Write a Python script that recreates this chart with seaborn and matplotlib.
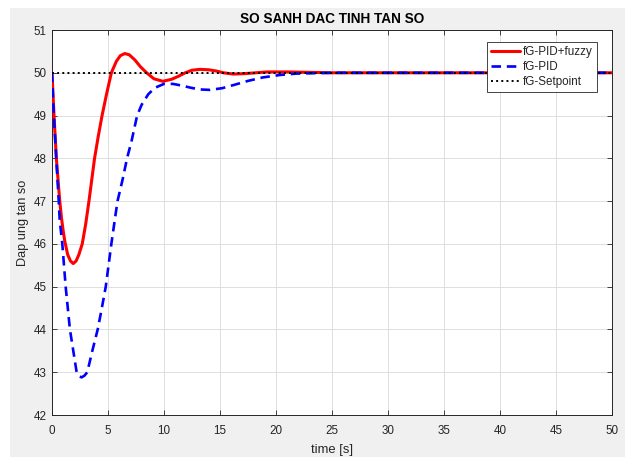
import numpy as np
import pandas as pd
import matplotlib
matplotlib.use("Agg")
import matplotlib.pyplot as plt
import seaborn as sns
from matplotlib.patches import Rectangle

# values
t_fuzzy = [0, 0.09, 0.18, 0.39, 0.69, 0.85, 1.0, 1.15, 1.4, 1.65, 1.9, 2.15, 2.4, 2.7,
           3.0, 3.3, 3.55, 3.8, 4.12, 4.47, 4.87, 5.3, 5.75, 6.1, 6.5, 6.9, 7.4, 7.9,
           8.45, 9.1, 9.9, 10.7, 11.3, 11.9, 12.5, 13.2, 14.0, 14.7, 15.3, 16.2, 17.2,
           18.2, 19.2, 21, 23, 25, 30, 35, 40, 45, 50]
f_fuzzy = [50, 49.5, 49.0, 48.0, 47.0, 46.6, 46.3, 46.05, 45.75, 45.6, 45.54, 45.6, 45.75, 46.0,
           46.45, 47.0, 47.5, 48.0, 48.5, 49.0, 49.5, 50.0, 50.27, 50.4, 50.45, 50.42, 50.3, 50.14,
           50.0, 49.86, 49.8, 49.85, 49.92, 50.0, 50.06, 50.08, 50.07, 50.04, 50.0, 49.97, 49.98,
           50.0, 50.02, 50.02, 50.01, 50.0, 50.0, 50.0, 50.0, 50.0, 50.0]

t_pid = [0, 0.08, 0.17, 0.38, 0.6, 0.69, 0.92, 1.22, 1.6, 1.9, 2.2, 2.45, 2.65, 2.9, 3.15,
         3.6, 4.08, 4.45, 4.8, 5.05, 5.3, 5.6, 5.85, 6.3, 6.7, 7.1, 7.6, 8.0, 8.6, 9.2,
         10.0, 10.8, 11.6, 12.4, 13.2, 14.1, 15.2, 16.3, 17.5, 18.8, 20.4, 21.8, 23.5,
         25, 30, 35, 40, 45, 50]
f_pid = [50, 49.5, 49.0, 48.0, 47.0, 46.55, 46.0, 45.0, 44.0, 43.5, 43.0, 42.9, 42.88, 42.92, 43.0,
         43.5, 44.0, 44.5, 45.0, 45.5, 46.0, 46.55, 47.0, 47.5, 48.0, 48.4, 49.0, 49.25, 49.5, 49.65,
         49.74, 49.74, 49.7, 49.65, 49.61, 49.6, 49.64, 49.72, 49.81, 49.89, 49.95, 49.98, 49.99,
         50.0, 50.0, 50.0, 50.0, 50.0, 50.0]

t_set = [0, 50]
f_set = [50, 50]

fuzzy = pd.DataFrame({"t": t_fuzzy, "f": f_fuzzy})
pid = pd.DataFrame({"t": t_pid, "f": f_pid})
setp = pd.DataFrame({"t": t_set, "f": f_set})

sns.set_style("ticks")
plt.rcParams["font.family"] = ["Liberation Sans", "DejaVu Sans"]

fig = plt.figure(figsize=(6.35, 4.57), dpi=100, facecolor="white")
fig.patches.append(Rectangle((10 / 635, 0), 615 / 635, 449 / 457, transform=fig.transFigure,
                             facecolor="#f0f0f0", edgecolor="none", zorder=-10))
ax = fig.add_axes([52 / 635, 42 / 457, 560 / 635, 385 / 457])
ax.set_facecolor("white")

sns.lineplot(data=fuzzy, x="t", y="f", color="red", lw=2.2, label="fG-PID+fuzzy", ax=ax, zorder=3)
sns.lineplot(data=pid, x="t", y="f", color="blue", lw=1.9, label="fG-PID", ax=ax, zorder=4)
ax.lines[-1].set_dashes((3.6, 2.2))
sns.lineplot(data=setp, x="t", y="f", color="black", lw=1.4, ls=":", label="fG-Setpoint", ax=ax, zorder=5)

ax.set_xlim(0, 50)
ax.set_ylim(42, 51)
ax.set_xticks(np.arange(0, 51, 5))
ax.set_yticks(np.arange(42, 52, 1))
ax.grid(True, color="#dedede", lw=0.7)
ax.set_axisbelow(True)
ax.tick_params(direction="in", length=3.5, width=0.6, top=True, right=True,
               labelsize=8.4, colors="#262626")
ax.tick_params(axis="x", pad=7.5)
ax.tick_params(axis="y", pad=4)
for s in ax.spines.values():
    s.set_color("#262626")
    s.set_linewidth(0.7)

ax.set_title("SO SANH DAC TINH TAN SO", fontsize=9.8, fontweight="bold", color="black", pad=5)
ax.set_xlabel("time [s]", fontsize=9.4, color="#262626", labelpad=4.5)
ax.set_ylabel("Dap ung tan so", fontsize=9.2, color="#262626", labelpad=3)

leg = ax.legend(loc="upper right", bbox_to_anchor=(0.9727, 0.9696), fontsize=8.4, frameon=True,
                fancybox=False, framealpha=1, edgecolor="#262626", handlelength=2.5,
                borderpad=0.35, labelspacing=0.25, handletextpad=0.25, borderaxespad=0)
leg.get_frame().set_linewidth(0.6)

fig.savefig("out.png", dpi=100, facecolor=fig.get_facecolor())
